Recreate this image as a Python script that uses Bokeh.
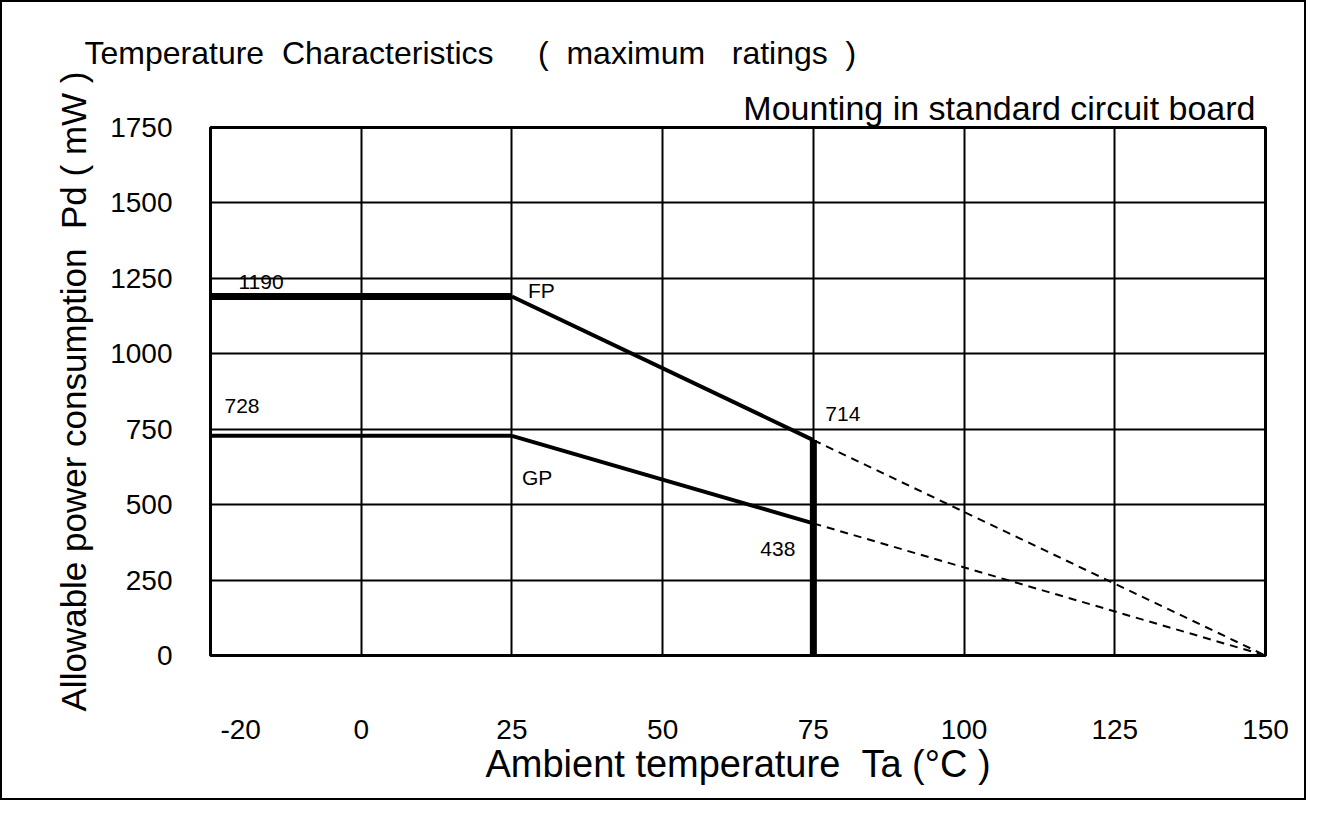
from bokeh.plotting import figure
from bokeh.models import Range1d, FixedTicker, Title, Label
from bokeh.embed import file_html
from bokeh.resources import INLINE

# ---- data ----
temp_ticks = [-20, 0, 25, 50, 75, 100, 125, 150]
temp_tick_labels = ["-20", "0", "25", "50", "75", "100", "125", "150"]
temp_grid = [0, 25, 50, 75, 100, 125]
pd_ticks = [0, 250, 500, 750, 1000, 1250, 1500, 1750]

fp_temp = [-25, 25, 75]
fp_pd = [1190, 1190, 714]
gp_temp = [-25, 25, 75]
gp_pd = [728, 728, 438]
derate_end_temp = 150
derate_end_pd = 0
limit_temp = 75

FONT = "Liberation Sans"
NB = "\u00a0"

title_text = ("Temperature" + NB * 2 + "Characteristics" + NB * 5 + "(" + NB * 2 +
              "maximum" + NB * 3 + "ratings" + NB * 2 + ")")
subtitle_text = "Mounting in standard circuit board"
xlabel_text = "Ambient temperature" + NB * 2 + "Ta" + NB + "(\u00b0C" + NB + ")"
ylabel_text = "Allowable power consumption" + NB * 2 + "Pd" + NB + "(" + NB + "mW" + NB + ")"

p = figure(width=1306, height=800, output_backend="svg", toolbar_location=None,
           x_range=Range1d(-25, 150), y_range=Range1d(0, 1750),
           min_border_left=208, min_border_right=43, min_border_top=125,
           min_border_bottom=147)
p.styles = {"border": "2px solid black"}
p.outline_line_color = "black"
p.outline_line_width = 3
p.background_fill_color = "white"
p.border_fill_color = "white"

# grids
p.xgrid.ticker = FixedTicker(ticks=temp_grid)
p.ygrid.ticker = FixedTicker(ticks=pd_ticks)
for g in (p.xgrid, p.ygrid):
    g.grid_line_color = "black"
    g.grid_line_width = 2
    g.grid_line_alpha = 1

# axes
p.xaxis.ticker = FixedTicker(ticks=temp_ticks)
p.xaxis.major_label_overrides = dict(zip(temp_ticks, temp_tick_labels))
p.yaxis.ticker = FixedTicker(ticks=pd_ticks)
for ax in (p.xaxis, p.yaxis):
    ax.axis_line_color = None
    ax.major_tick_line_color = None
    ax.minor_tick_line_color = None
    ax.major_label_text_font = FONT
    ax.major_label_text_font_size = "28px"
    ax.major_label_text_color = "black"
    ax.axis_label_text_font = FONT
    ax.axis_label_text_font_style = "normal"
    ax.axis_label_text_color = "black"
p.xaxis.major_label_standoff = 58
p.xaxis.axis_label = xlabel_text
p.xaxis.axis_label_text_font_size = "38px"
p.xaxis.axis_label_standoff = 1
p.yaxis.major_label_standoff = 32
p.yaxis.axis_label = ylabel_text
p.yaxis.axis_label_text_font_size = "35px"
p.yaxis.axis_label_standoff = 14

# curves
p.line(fp_temp[:2], fp_pd[:2], line_color="black", line_width=7)
p.line(fp_temp[1:], fp_pd[1:], line_color="black", line_width=4)
p.line(gp_temp[:2], gp_pd[:2], line_color="black", line_width=4)
p.line(gp_temp[1:], gp_pd[1:], line_color="black", line_width=4)
p.line([fp_temp[-1], derate_end_temp], [fp_pd[-1], derate_end_pd],
       line_color="black", line_width=2, line_dash="8 6")
p.line([gp_temp[-1], derate_end_temp], [gp_pd[-1], derate_end_pd],
       line_color="black", line_width=2, line_dash="8 6")
p.line([limit_temp, limit_temp], [0, fp_pd[-1]], line_color="black", line_width=7)

def ann(x, y, text, xo, yo, align="left", base="middle"):
    p.add_layout(Label(x=x, y=y, text=text, x_offset=xo, y_offset=yo,
                       text_align=align, text_baseline=base,
                       text_font=FONT, text_font_size="21px", text_color="black"))

ann(fp_temp[0], fp_pd[0], "1190", 28, 14)
ann(fp_temp[1], fp_pd[1], "FP", 16, 6)
ann(gp_temp[0], gp_pd[0], "728", 14, 30)
ann(fp_temp[2], fp_pd[2], "714", 12, 26)
ann(gp_temp[1], gp_pd[1], "GP", 10, -42)
ann(gp_temp[2], gp_pd[2], "438", -18, -26, align="right")

# titles
p.add_layout(Title(text=subtitle_text, align="right", offset=10,
                   text_font=FONT, text_font_size="34px", text_color="black",
                   text_font_style="normal", standoff=1), "above")
p.add_layout(Title(text=title_text, align="left", offset=-126, text_font=FONT,
                   text_font_size="32px", text_color="black",
                   text_font_style="normal", standoff=32), "above")

open("out.html", "w").write(file_html(p, INLINE))
